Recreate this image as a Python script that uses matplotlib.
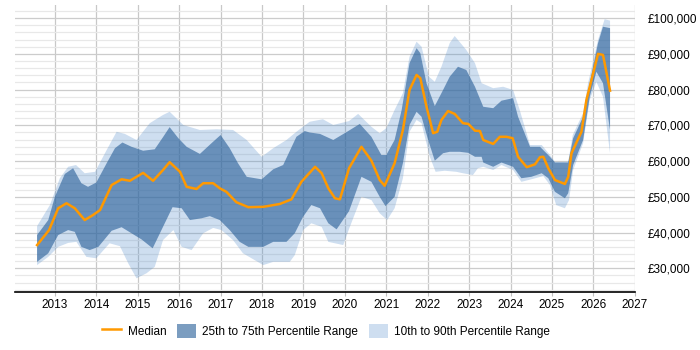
import numpy as np
import matplotlib
matplotlib.use('Agg')
import matplotlib.pyplot as plt
from matplotlib.ticker import FuncFormatter, MultipleLocator

plt.rcParams['font.family'] = ['Liberation Sans', 'DejaVu Sans']

# median salary
med_x = [2012.57, 2012.86, 2013.08, 2013.28, 2013.48, 2013.72, 2013.92, 2014.09, 2014.37, 2014.61,
         2014.81, 2015.13, 2015.37, 2015.61, 2015.77, 2016.02, 2016.18, 2016.42, 2016.58, 2016.82,
         2016.98, 2017.14, 2017.38, 2017.67, 2018.03, 2018.43, 2018.71, 2018.95, 2019.28, 2019.44,
         2019.60, 2019.76, 2019.88, 2020.10, 2020.40, 2020.64, 2020.84, 2020.96, 2021.20, 2021.40,
         2021.56, 2021.73, 2021.82, 2021.97, 2022.13, 2022.23, 2022.33, 2022.49, 2022.65, 2022.85,
         2022.98, 2023.14, 2023.26, 2023.34, 2023.58, 2023.74, 2023.90, 2024.05, 2024.18, 2024.39,
         2024.59, 2024.71, 2024.79, 2024.91, 2025.07, 2025.31, 2025.39, 2025.47, 2025.71, 2025.83,
         2026.11, 2026.23, 2026.40]
med_y = [36500, 40700, 46800, 48200, 46800, 43500, 44900, 46300, 53300, 54900,
         54500, 56700, 54500, 57500, 59700, 57000, 52800, 52200, 53800, 53800,
         52400, 51400, 48500, 47100, 47200, 48000, 49300, 54200, 58400, 56600,
         52400, 49600, 49300, 58000, 64000, 60100, 54700, 53100, 59400, 68700,
         79900, 84100, 83200, 75200, 67800, 68200, 71500, 74000, 73200, 70600,
         70400, 68500, 68400, 65900, 64800, 66800, 66800, 66400, 61200, 58300,
         59100, 61100, 61200, 58000, 54700, 53600, 55600, 62200, 68200, 77100,
         90000, 89700, 79700]

# 75th percentile
p75_x = [2012.57, 2012.84, 2013.00, 2013.24, 2013.44, 2013.64, 2013.80, 2014.00, 2014.25, 2014.45,
         2014.63, 2014.85, 2015.13, 2015.41, 2015.61, 2015.77, 2015.98, 2016.18, 2016.50, 2016.78,
         2017.00, 2017.22, 2017.42, 2017.63, 2017.99, 2018.27, 2018.51, 2018.83, 2019.03, 2019.15,
         2019.40, 2019.72, 2020.08, 2020.36, 2020.64, 2020.88, 2021.00, 2021.20, 2021.37, 2021.56,
         2021.73, 2021.82, 2021.97, 2022.17, 2022.37, 2022.53, 2022.73, 2022.93, 2023.14, 2023.34,
         2023.58, 2023.78, 2024.06, 2024.18, 2024.47, 2024.71, 2024.95, 2025.07, 2025.39, 2025.51,
         2025.75, 2025.91, 2026.11, 2026.23, 2026.40]
p75_y = [39300, 43500, 50000, 56400, 58000, 53800, 52800, 54000, 59400, 63600,
         65200, 64000, 62900, 63300, 66700, 69500, 66400, 64000, 62000, 65000,
         67300, 63600, 59400, 55600, 54900, 57700, 58900, 66800, 68400, 68000,
         67600, 65900, 68400, 70400, 66800, 61700, 61700, 65900, 74300, 87400,
         91600, 90200, 81800, 75400, 79900, 83600, 86400, 85500, 80800, 75200,
         74800, 76900, 77600, 72400, 64000, 64000, 61200, 59600, 59600, 66400,
         72400, 81800, 93000, 97600, 97200]

# 25th percentile
p25_x = [2012.57, 2012.84, 2013.08, 2013.32, 2013.48, 2013.64, 2013.84, 2014.05, 2014.37, 2014.61,
         2014.85, 2015.09, 2015.36, 2015.61, 2015.84, 2016.06, 2016.26, 2016.54, 2016.74, 2016.98,
         2017.22, 2017.46, 2017.67, 2018.03, 2018.27, 2018.59, 2018.79, 2018.99, 2019.19, 2019.40,
         2019.60, 2019.80, 2020.10, 2020.40, 2020.64, 2020.84, 2020.98, 2021.20, 2021.40, 2021.56,
         2021.73, 2021.85, 2022.01, 2022.17, 2022.37, 2022.53, 2022.77, 2022.98, 2023.14, 2023.30,
         2023.34, 2023.58, 2023.78, 2024.06, 2024.26, 2024.50, 2024.75, 2024.91, 2025.07, 2025.31,
         2025.39, 2025.51, 2025.75, 2025.91, 2026.07, 2026.23, 2026.40]
p25_y = [31800, 34200, 39300, 40700, 40200, 36000, 35100, 36000, 40500, 41500,
         39800, 38100, 35600, 41600, 47100, 46800, 43500, 44000, 44600, 43500,
         40700, 37400, 36000, 36000, 37400, 37400, 39800, 44400, 47700, 46800,
         42600, 40900, 46000, 55600, 54200, 50000, 47400, 50000, 59400, 70100,
         73800, 72400, 65900, 60100, 62200, 62600, 62600, 62300, 61200, 61200,
         59600, 58400, 59600, 58400, 55200, 55600, 56600, 55200, 51400, 49600,
         51000, 58900, 65900, 78000, 85000, 81800, 68700]

# 90th percentile
p90_x = [2012.57, 2012.88, 2013.12, 2013.32, 2013.51, 2013.72, 2013.97, 2014.25, 2014.49, 2014.69,
         2014.97, 2015.29, 2015.61, 2015.77, 2016.10, 2016.50, 2016.90, 2017.30, 2017.63, 2017.99,
         2018.27, 2018.59, 2018.83, 2019.15, 2019.47, 2019.72, 2020.10, 2020.32, 2020.64, 2020.84,
         2021.00, 2021.20, 2021.40, 2021.56, 2021.73, 2021.85, 2022.03, 2022.17, 2022.33, 2022.53,
         2022.65, 2022.93, 2023.14, 2023.30, 2023.58, 2023.82, 2024.06, 2024.22, 2024.47, 2024.75,
         2024.95, 2025.07, 2025.39, 2025.50, 2025.75, 2025.87, 2026.11, 2026.27, 2026.40]
p90_y = [41800, 47700, 55200, 58400, 58900, 56600, 57000, 63100, 68200, 67600,
         65900, 70600, 72900, 73800, 70100, 68700, 68900, 68700, 65900, 61200,
         63600, 65900, 68200, 71000, 71700, 70100, 71200, 73200, 69600, 67800,
         69200, 74300, 79000, 89200, 93400, 92000, 83600, 82200, 86400, 93000,
         95000, 91100, 87400, 81800, 80400, 80800, 79900, 74300, 64500, 64500,
         61700, 59800, 59800, 67300, 73400, 81800, 93900, 99700, 99300]

# 10th percentile
p10_x = [2012.57, 2012.84, 2013.08, 2013.32, 2013.52, 2013.76, 2014.00, 2014.32, 2014.57, 2014.77,
         2014.97, 2015.21, 2015.41, 2015.61, 2015.86, 2016.06, 2016.30, 2016.58, 2016.82, 2017.02,
         2017.30, 2017.54, 2018.03, 2018.27, 2018.67, 2018.79, 2018.99, 2019.19, 2019.44, 2019.60,
         2019.96, 2020.10, 2020.40, 2020.64, 2020.84, 2021.02, 2021.20, 2021.40, 2021.56, 2021.73,
         2021.85, 2022.05, 2022.19, 2022.41, 2022.69, 2022.85, 2023.09, 2023.21, 2023.34, 2023.58,
         2023.78, 2024.06, 2024.26, 2024.50, 2024.79, 2024.95, 2025.10, 2025.31, 2025.41, 2025.51,
         2025.75, 2025.91, 2026.07, 2026.23, 2026.40]
p10_y = [30900, 33200, 36000, 37100, 37400, 33200, 32800, 37000, 36200, 31400,
         27200, 28600, 30400, 37900, 40700, 36000, 35100, 39800, 41300, 40700,
         37900, 34200, 30900, 31800, 31800, 33700, 40700, 42600, 41600, 37400,
         36500, 41000, 50000, 49100, 45400, 43500, 46800, 55200, 68200, 71500,
         70600, 61200, 57000, 57300, 57000, 56600, 56100, 58000, 58400, 57500,
         58900, 57500, 54200, 54900, 55800, 53300, 47700, 46800, 49100, 57500,
         65000, 77100, 82200, 78000, 62200]

years = list(range(2013, 2028))

fig = plt.figure(figsize=(7, 3.5), dpi=100)
ax = fig.add_axes([0.021, 0.165, 0.886, 0.821])

ax.fill(np.concatenate([p90_x, p10_x[::-1]]), np.concatenate([p90_y, p10_y[::-1]]),
        color='#4a86c8', alpha=0.27, lw=0, zorder=2, label='10th to 90th Percentile Range')
ax.fill(np.concatenate([p75_x, p25_x[::-1]]), np.concatenate([p75_y, p25_y[::-1]]),
        color='#2b619a', alpha=0.62, lw=0, zorder=3, label='25th to 75th Percentile Range')
ax.plot(med_x, med_y, color='#ff9900', lw=1.8, zorder=4, label='Median')

ax.set_xlim(2012.03, 2027)
ax.set_ylim(23300, 103700)
ax.set_xticks(years)
ax.yaxis.set_major_locator(MultipleLocator(10000))
ax.yaxis.set_minor_locator(MultipleLocator(2000))
ax.yaxis.set_major_formatter(FuncFormatter(lambda v, p: '£{:,.0f}'.format(v)))
ax.yaxis.tick_right()
ax.tick_params(axis='y', which='both', length=0, pad=9, labelsize=8.5)
ax.tick_params(axis='x', length=3, color='#c0c0c0', labelsize=8.5, pad=2)

ax.grid(axis='x', color='#c8c8c8', lw=0.9, zorder=1)
ax.grid(axis='y', which='major', color='#cccccc', lw=0.9, zorder=1)
ax.grid(axis='y', which='minor', color='#e8e8e8', lw=0.9, zorder=1)
ax.set_axisbelow(True)

for s in ['top', 'left', 'right']:
    ax.spines[s].set_visible(False)
ax.spines['bottom'].set_color('black')
ax.spines['bottom'].set_linewidth(1.2)

h, l = ax.get_legend_handles_labels()
order = [2, 1, 0]
fig.legend([h[i] for i in order], [l[i] for i in order], loc='center', ncol=3,
           bbox_to_anchor=(0.466, 0.055), frameon=False, fontsize=8.5,
           handlelength=1.6, handleheight=1.4, columnspacing=0.9, handletextpad=0.55)

fig.savefig('out.png', dpi=100)
